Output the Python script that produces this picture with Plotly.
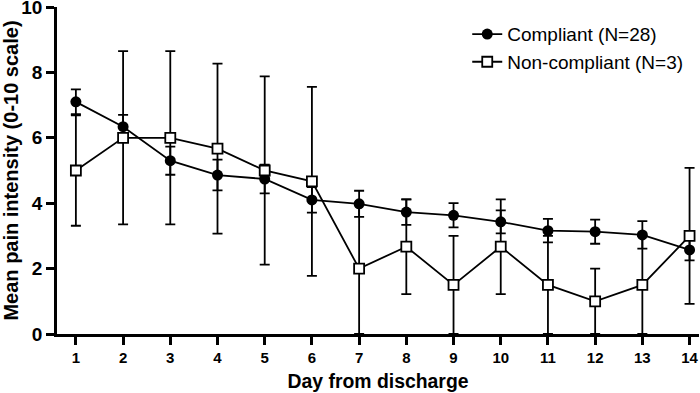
import plotly.graph_objects as go

days = list(range(1, 15))
compliant_mean = [7.10, 6.34, 5.30, 4.86, 4.74, 4.10, 3.98, 3.73, 3.63, 3.43, 3.16, 3.13, 3.03, 2.57]
compliant_err = [0.38, 0.36, 0.43, 0.47, 0.44, 0.39, 0.40, 0.39, 0.37, 0.35, 0.36, 0.37, 0.42, 0.32]
noncompliant_mean = [5.0, 6.0, 6.0, 5.67, 5.0, 4.67, 2.0, 2.67, 1.5, 2.67, 1.5, 1.0, 1.5, 3.0]
noncompliant_err = [1.69, 2.65, 2.65, 2.6, 2.88, 2.89, 2.0, 1.45, 1.5, 1.45, 1.5, 1.0, 1.5, 2.08]
y_ticks = [0, 2, 4, 6, 8, 10]

FONT = "Liberation Sans, Arial, Helvetica, sans-serif"

fig = go.Figure()
fig.add_trace(go.Scatter(
    x=days, y=compliant_mean, mode="lines+markers", name="Compliant (N=28)",
    line=dict(color="black", width=1.8),
    marker=dict(symbol="circle", size=11, color="black"),
    error_y=dict(type="data", array=compliant_err, visible=True, color="black", thickness=1.8, width=5),
))
fig.add_trace(go.Scatter(
    x=days, y=noncompliant_mean, mode="lines+markers", name="Non-compliant (N=3)",
    line=dict(color="black", width=1.8),
    marker=dict(symbol="square", size=10, color="white", line=dict(color="black", width=1.8)),
    error_y=dict(type="data", array=noncompliant_err, visible=True, color="black", thickness=1.8, width=5),
))

fig.update_layout(
    width=700, height=393,
    margin=dict(l=57, r=1, t=7, b=59, autoexpand=False),
    paper_bgcolor="white", plot_bgcolor="white",
    font=dict(family=FONT, color="black"),
    showlegend=True,
    legend=dict(x=0.639, y=0.975, xanchor="left", yanchor="top",
                font=dict(family=FONT, size=19, color="black"),
                bgcolor="rgba(0,0,0,0)", itemwidth=30, tracegroupgap=0),
    xaxis=dict(range=[0.6, 14.2], tickmode="array", tickvals=days,
               showline=True, linecolor="black", linewidth=2.5,
               ticks="outside", ticklen=8, tickwidth=2.5, tickcolor="black",
               showgrid=False, zeroline=False, automargin=False, ticklabeloverflow="allow",
               tickfont=dict(family=FONT, size=15, weight="bold"),
               title=dict(text="Day from discharge", font=dict(family=FONT, size=19.4, weight="bold"), standoff=10)),
    yaxis=dict(range=[0, 10], tickmode="array", tickvals=y_ticks,
               showline=True, linecolor="black", linewidth=2.5,
               ticks="outside", ticklen=8, tickwidth=2.5, tickcolor="black",
               showgrid=False, zeroline=False, automargin=False, ticklabeloverflow="allow",
               tickfont=dict(family=FONT, size=19, weight="bold"),
               title=dict(text="Mean pain intensity (0-10 scale)", font=dict(family=FONT, size=20, weight="bold"), standoff=4)),
)

fig.write_html("out.html", config={"displayModeBar": False},
               post_script="document.body.style.margin='0';document.body.style.padding='0';")
